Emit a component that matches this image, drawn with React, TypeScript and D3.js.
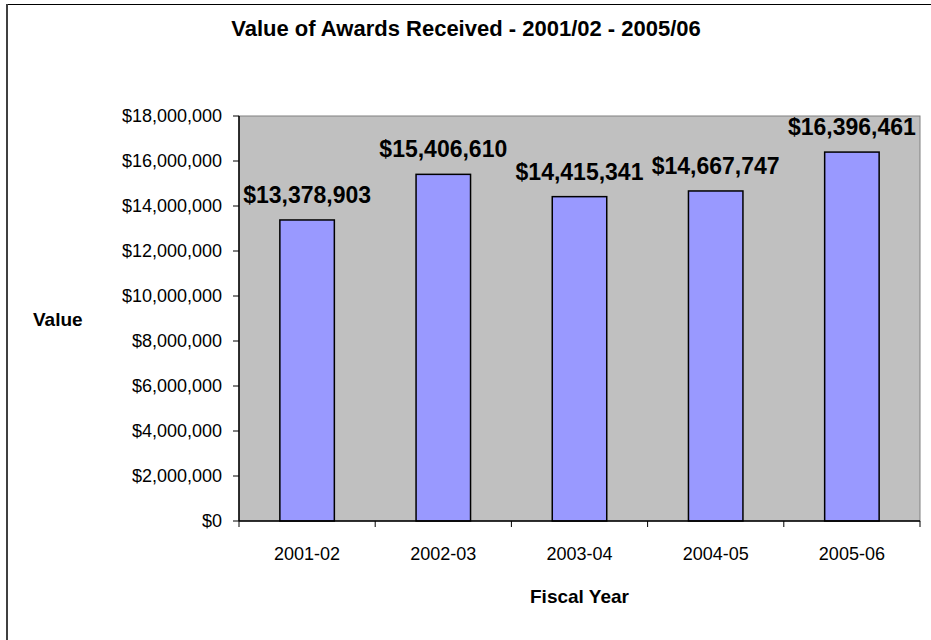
import React from "react";
import * as d3 from "d3";

const categories = ["2001-02", "2002-03", "2003-04", "2004-05", "2005-06"];
const values = [13378903, 15406610, 14415341, 14667747, 16396461];
const yTicks = [0, 2000000, 4000000, 6000000, 8000000, 10000000, 12000000, 14000000, 16000000, 18000000];
const title = "Value of Awards Received - 2001/02 - 2005/06";
const xTitle = "Fiscal Year";
const yTitle = "Value";

const W = 931;
const H = 640;
const plot = { left: 239, right: 920, top: 116, bottom: 521 };
const FONT = "'Liberation Sans', Arial, Helvetica, sans-serif";

const fmt = (v: number) => "$" + d3.format(",")(Math.round(v));

export default function App() {
  const x = d3
    .scaleBand<string>()
    .domain(categories)
    .range([plot.left, plot.right])
    .paddingInner(0.6)
    .paddingOuter(0.3);
  const y = d3.scaleLinear().domain([0, 18000000]).range([plot.bottom, plot.top]);

  return (
    <svg
      width={W}
      height={H}
      style={{ position: "absolute", left: 0, top: 0, background: "#fff" }}
      fontFamily={FONT}
    >
      {/* chart frame */}
      <line x1={6} x2={W} y1={4.5} y2={4.5} stroke="#000" strokeWidth={1} />
      <line x1={7} x2={7} y1={4} y2={H} stroke="#404040" strokeWidth={2} />

      <text x={466} y={36} textAnchor="middle" fontWeight="bold" fontSize={22} fill="#000">
        {title}
      </text>

      {/* plot area */}
      <rect
        x={plot.left}
        y={plot.top}
        width={plot.right - plot.left}
        height={plot.bottom - plot.top}
        fill="#C0C0C0"
        stroke="#808080"
        strokeWidth={1}
      />

      {/* bars */}
      {categories.map((c, i) => (
        <rect
          key={c}
          x={x(c)!}
          y={y(values[i])}
          width={x.bandwidth()}
          height={y(0) - y(values[i])}
          fill="#9999FF"
          stroke="#000"
          strokeWidth={1.5}
        />
      ))}

      {/* value labels */}
      {categories.map((c, i) => (
        <text
          key={c + "l"}
          x={x(c)! + x.bandwidth() / 2}
          y={y(values[i]) - 17}
          textAnchor="middle"
          fontWeight="bold"
          fontSize={23}
          fill="#000"
        >
          {fmt(values[i])}
        </text>
      ))}

      {/* y axis */}
      <line x1={plot.left} x2={plot.left} y1={plot.top} y2={plot.bottom} stroke="#000" strokeWidth={1.5} />
      {yTicks.map((t) => (
        <g key={t}>
          <line x1={plot.left - 6} x2={plot.left} y1={y(t)} y2={y(t)} stroke="#000" strokeWidth={1} />
          <text x={222} y={y(t)} dy="0.35em" textAnchor="end" fontSize={18} fill="#000">
            {fmt(t)}
          </text>
        </g>
      ))}

      {/* x axis */}
      <line x1={plot.left} x2={plot.right} y1={plot.bottom} y2={plot.bottom} stroke="#000" strokeWidth={1.5} />
      {categories.map((c, i) => {
        const xb = plot.left + ((plot.right - plot.left) / categories.length) * (i + 1);
        return (
          <g key={c + "t"}>
            <line x1={xb} x2={xb} y1={plot.bottom} y2={plot.bottom + 6} stroke="#000" strokeWidth={1} />
            <text x={x(c)! + x.bandwidth() / 2} y={560} textAnchor="middle" fontSize={18} fill="#000">
              {c}
            </text>
          </g>
        );
      })}
      <line x1={plot.left} x2={plot.left} y1={plot.bottom} y2={plot.bottom + 6} stroke="#000" strokeWidth={1} />

      <text x={(plot.left + plot.right) / 2} y={603} textAnchor="middle" fontWeight="bold" fontSize={19} fill="#000">
        {xTitle}
      </text>
      <text x={33} y={326} textAnchor="start" fontWeight="bold" fontSize={19} fill="#000">
        {yTitle}
      </text>
    </svg>
  );
}
